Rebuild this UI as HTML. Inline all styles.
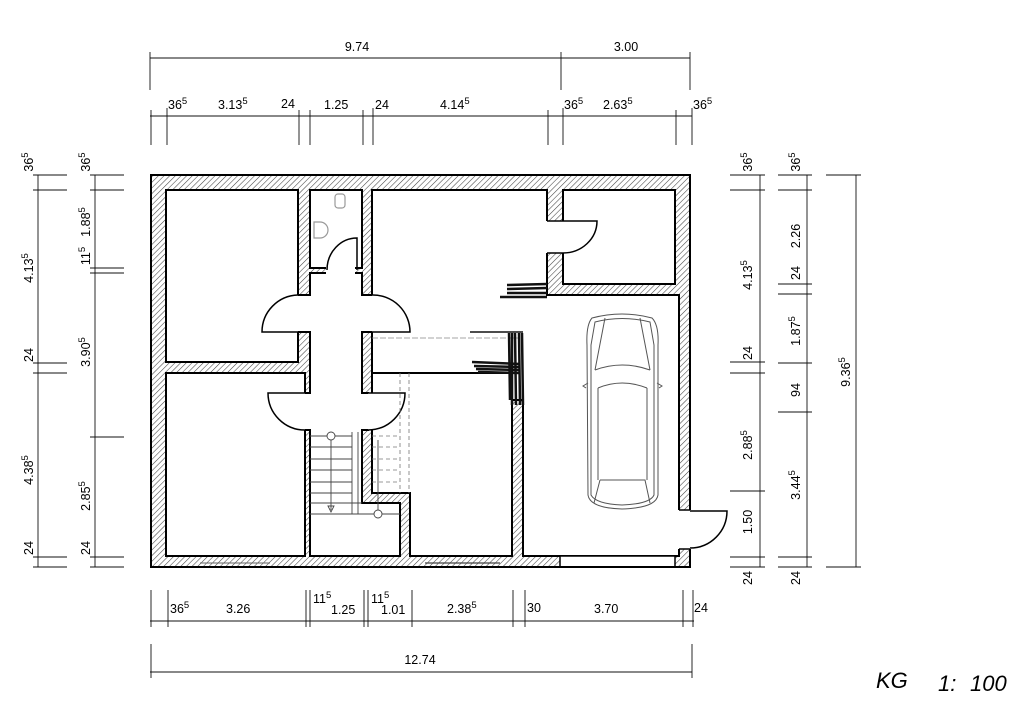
<!DOCTYPE html>
<html><head><meta charset="utf-8">
<style>
html,body{margin:0;padding:0;background:#fff;}
svg{display:block;}
text{font-family:"Liberation Sans",sans-serif;font-size:12.5px;fill:#000;}
.s{font-size:9.5px;}
</style></head>
<body>
<svg width="1026" height="710" viewBox="0 0 1026 710" xmlns="http://www.w3.org/2000/svg">
<defs>
<pattern id="h" width="4" height="4" patternUnits="userSpaceOnUse" patternTransform="rotate(45)">
<rect width="4" height="4" fill="#fff"/>
<line x1="0" y1="0" x2="0" y2="4" stroke="#444" stroke-width="1.1"/>
</pattern>
</defs>

<rect x="151" y="175" width="539" height="392" fill="url(#h)" stroke="#000" stroke-width="2"/>

<g fill="#fff" stroke="#000" stroke-width="2">
<rect x="166" y="190" width="132" height="172"/>
<rect x="166" y="373" width="139" height="183"/>
<rect x="310" y="190" width="52" height="78"/>
<path d="M372,190 L547,190 L547,295 L679,295 L679,556 L523,556 L523,400 L512,400 L512,373 L372,373 L372,362 L372,190 Z"/>
<rect x="563" y="190" width="112" height="94"/>
<path d="M372,373 L512,373 L512,556 L410,556 L410,493 L372,493 Z"/>
<path d="M310,273 L362,273 L362,295 L372,295 L372,332 L362,332 L362,393 L368,393 L368,430 L362,430 L362,503 L400,503 L400,556 L310,556 L310,430 L305,430 L305,393 L310,393 L310,332 L298,332 L298,295 L310,295 Z"/>
</g>
<g fill="#fff" stroke="none">
<rect x="326" y="266" width="29" height="9"/>
<rect x="545" y="221" width="20" height="32"/>
<rect x="677" y="510" width="15" height="39"/>
<rect x="296" y="296" width="16" height="35"/>
<rect x="360" y="296" width="14" height="35"/>
<rect x="303" y="394" width="9" height="35"/>
<rect x="360" y="394" width="10" height="35"/>
</g>
<rect x="560" y="556" width="115" height="11" fill="#fff" stroke="#000" stroke-width="1.5"/>
<line x1="151" y1="567" x2="690" y2="567" stroke="#000" stroke-width="2"/>
<line x1="690" y1="175" x2="690" y2="510" stroke="#000" stroke-width="2"/>
<line x1="690" y1="549" x2="690" y2="567" stroke="#000" stroke-width="2"/>
<line x1="679" y1="549" x2="690" y2="549" stroke="#000" stroke-width="1.5"/>
<line x1="679" y1="510" x2="690" y2="510" stroke="#000" stroke-width="1.5"/>

<g fill="#fff" stroke="#000" stroke-width="1.5">
<path d="M298,295 A37,37 0 0 0 262,332 L298,332"/>
<path d="M372,295 A37,37 0 0 1 410,332 L372,332"/>
<path d="M305,430 A37,37 0 0 1 268,393 L305,393"/>
<path d="M368,430 A37,37 0 0 0 405,393 L368,393"/>
<path d="M327,270 A30,32 0 0 1 357,238 L357,270" fill="none"/>
<path d="M563,221 L597,221 A34,32 0 0 1 563,253" fill="none"/>
<path d="M690,511 L727,511 A37,37 0 0 1 690,548" fill="none"/>
</g>
<line x1="547" y1="221" x2="563" y2="221" stroke="#000" stroke-width="1.5"/>
<line x1="547" y1="253" x2="563" y2="253" stroke="#000" stroke-width="1.5"/>

<g fill="none" stroke="#999" stroke-width="1.2">
<rect x="335" y="194" width="10" height="14" rx="3"/>
<path d="M314,222 L320,222 A8,8 0 0 1 320,238 L314,238 Z"/>
</g>

<g stroke="#444" stroke-width="0.9" fill="none">
<line x1="310" y1="436" x2="352" y2="436"/>
<line x1="310" y1="447" x2="352" y2="447"/>
<line x1="310" y1="459" x2="352" y2="459"/>
<line x1="310" y1="470" x2="352" y2="470"/>
<line x1="310" y1="482" x2="352" y2="482"/>
<line x1="310" y1="493" x2="352" y2="493"/>
<line x1="310" y1="503" x2="362" y2="503"/>
<line x1="310" y1="514" x2="400" y2="514"/>
<line x1="352" y1="432" x2="352" y2="514"/>
<line x1="358" y1="432" x2="358" y2="514"/>
<line x1="331" y1="440" x2="331" y2="510"/>
<circle cx="331" cy="436" r="4" fill="#fff"/>
<path d="M328,506 L331,512 L334,506 Z"/>
<line x1="378" y1="440" x2="378" y2="510"/>
<circle cx="378" cy="514" r="4" fill="#fff"/>
</g>
<g stroke="#777" stroke-width="0.8" stroke-dasharray="4,3" fill="none">
<line x1="400" y1="373" x2="400" y2="493"/>
<line x1="409" y1="373" x2="409" y2="493"/>
<line x1="372" y1="447" x2="400" y2="447"/>
<line x1="372" y1="459" x2="400" y2="459"/>
<line x1="372" y1="470" x2="400" y2="470"/>
<line x1="372" y1="482" x2="400" y2="482"/>
<line x1="372" y1="436" x2="400" y2="436"/>
</g>

<g stroke="#111" fill="none">
<path d="M507,285 L547,284 M507,289 L547,288 M507,293 L547,293 M507,297 L547,297 M500,297 L510,297" stroke-width="2.5"/>
<line x1="372" y1="338" x2="520" y2="338" stroke="#888" stroke-width="0.8" stroke-dasharray="6,2"/>
<line x1="470" y1="332" x2="523" y2="332" stroke-width="1.5"/>
<path d="M509,333 L510,400 M512,333 L512,405 M515,333 L516,405 M519,333 L520,405 M522,333 L523,405" stroke-width="2.5"/>
<path d="M472,362 L520,364 M474,366 L520,367 M476,369 L520,370 M478,372 L520,373" stroke-width="2.5"/>
<line x1="200" y1="563" x2="270" y2="563" stroke="#666" stroke-width="1"/>
<line x1="425" y1="563" x2="500" y2="563" stroke="#444" stroke-width="1.3"/>
</g>

<g fill="none" stroke="#555" stroke-width="1">
<path d="M592,318 Q622,310 652,318 Q659,325 658,345 L658,495 Q656,508 622,509 Q590,508 588,495 L587,345 Q586,325 592,318 Z"/>
<path d="M595,322 Q622,315 650,322 L654,345 L654,495 Q650,504 622,505 Q596,504 591,495 L591,345 Z"/>
<path d="M605,318 L595,370 M640,318 L650,370"/>
<path d="M595,370 Q622,360 650,370"/>
<path d="M598,388 Q622,378 647,388"/>
<path d="M598,388 L598,480 M647,388 L647,480"/>
<path d="M600,480 L645,480 L650,503 M600,480 L594,503"/>
<path d="M588,383 L583,386 L586,388 M657,383 L662,386 L659,388"/>
</g>

<g stroke="#111" stroke-width="0.9" fill="none">
<line x1="150" y1="58" x2="690" y2="58"/>
<line x1="150" y1="52" x2="150" y2="90"/>
<line x1="561" y1="52" x2="561" y2="90"/>
<line x1="690" y1="52" x2="690" y2="90"/>
<line x1="150" y1="116" x2="692" y2="116"/>
<line x1="151" y1="110" x2="151" y2="145"/>
<line x1="167" y1="108" x2="167" y2="145"/>
<line x1="299" y1="110" x2="299" y2="145"/>
<line x1="310" y1="110" x2="310" y2="145"/>
<line x1="363" y1="110" x2="363" y2="145"/>
<line x1="373" y1="108" x2="373" y2="145"/>
<line x1="548" y1="110" x2="548" y2="145"/>
<line x1="563" y1="108" x2="563" y2="145"/>
<line x1="676" y1="110" x2="676" y2="145"/>
<line x1="692" y1="108" x2="692" y2="145"/>
<line x1="38" y1="175" x2="38" y2="567"/>
<line x1="33" y1="175" x2="67" y2="175"/>
<line x1="33" y1="190" x2="67" y2="190"/>
<line x1="33" y1="363" x2="67" y2="363"/>
<line x1="33" y1="373" x2="67" y2="373"/>
<line x1="33" y1="557" x2="67" y2="557"/>
<line x1="33" y1="567" x2="67" y2="567"/>
<line x1="95" y1="175" x2="95" y2="567"/>
<line x1="90" y1="175" x2="124" y2="175"/>
<line x1="90" y1="190" x2="124" y2="190"/>
<line x1="90" y1="268" x2="124" y2="268"/>
<line x1="90" y1="273" x2="124" y2="273"/>
<line x1="90" y1="437" x2="124" y2="437"/>
<line x1="90" y1="557" x2="124" y2="557"/>
<line x1="90" y1="567" x2="124" y2="567"/>
<line x1="760" y1="175" x2="760" y2="567"/>
<line x1="730" y1="175" x2="765" y2="175"/>
<line x1="730" y1="190" x2="765" y2="190"/>
<line x1="730" y1="362" x2="765" y2="362"/>
<line x1="730" y1="373" x2="765" y2="373"/>
<line x1="730" y1="491" x2="765" y2="491"/>
<line x1="730" y1="557" x2="765" y2="557"/>
<line x1="730" y1="567" x2="765" y2="567"/>
<line x1="807" y1="175" x2="807" y2="567"/>
<line x1="778" y1="175" x2="812" y2="175"/>
<line x1="778" y1="190" x2="812" y2="190"/>
<line x1="778" y1="284" x2="812" y2="284"/>
<line x1="778" y1="294" x2="812" y2="294"/>
<line x1="778" y1="363" x2="812" y2="363"/>
<line x1="778" y1="412" x2="812" y2="412"/>
<line x1="778" y1="557" x2="812" y2="557"/>
<line x1="778" y1="567" x2="812" y2="567"/>
<line x1="856" y1="175" x2="856" y2="567"/>
<line x1="826" y1="175" x2="861" y2="175"/>
<line x1="826" y1="567" x2="861" y2="567"/>
<line x1="150" y1="621" x2="694" y2="621"/>
<line x1="151" y1="590" x2="151" y2="627"/>
<line x1="168" y1="590" x2="168" y2="627"/>
<line x1="306" y1="590" x2="306" y2="627"/>
<line x1="310" y1="590" x2="310" y2="627"/>
<line x1="364" y1="590" x2="364" y2="627"/>
<line x1="368" y1="590" x2="368" y2="627"/>
<line x1="412" y1="590" x2="412" y2="627"/>
<line x1="513" y1="590" x2="513" y2="627"/>
<line x1="525" y1="590" x2="525" y2="627"/>
<line x1="683" y1="590" x2="683" y2="627"/>
<line x1="693" y1="590" x2="693" y2="627"/>
<line x1="150" y1="672" x2="692" y2="672"/>
<line x1="151" y1="644" x2="151" y2="678"/>
<line x1="692" y1="644" x2="692" y2="678"/>
</g>

<text x="357" y="51" text-anchor="middle">9.74</text>
<text x="626" y="51" text-anchor="middle">3.00</text>
<text x="168" y="109">36<tspan class="s" dy="-5">5</tspan></text>
<text x="218" y="109">3.13<tspan class="s" dy="-5">5</tspan></text>
<text x="281" y="108">24</text>
<text x="324" y="109">1.25</text>
<text x="375" y="109">24</text>
<text x="440" y="109">4.14<tspan class="s" dy="-5">5</tspan></text>
<text x="564" y="109">36<tspan class="s" dy="-5">5</tspan></text>
<text x="603" y="109">2.63<tspan class="s" dy="-5">5</tspan></text>
<text x="693" y="109">36<tspan class="s" dy="-5">5</tspan></text>

<text transform="translate(33,162) rotate(-90)" text-anchor="middle">36<tspan class="s" dy="-5">5</tspan></text>
<text transform="translate(33,268) rotate(-90)" text-anchor="middle">4.13<tspan class="s" dy="-5">5</tspan></text>
<text transform="translate(33,355) rotate(-90)" text-anchor="middle">24</text>
<text transform="translate(33,470) rotate(-90)" text-anchor="middle">4.38<tspan class="s" dy="-5">5</tspan></text>
<text transform="translate(33,548) rotate(-90)" text-anchor="middle">24</text>
<text transform="translate(90,162) rotate(-90)" text-anchor="middle">36<tspan class="s" dy="-5">5</tspan></text>
<text transform="translate(90,222) rotate(-90)" text-anchor="middle">1.88<tspan class="s" dy="-5">5</tspan></text>
<text transform="translate(90,256) rotate(-90)" text-anchor="middle">11<tspan class="s" dy="-5">5</tspan></text>
<text transform="translate(90,352) rotate(-90)" text-anchor="middle">3.90<tspan class="s" dy="-5">5</tspan></text>
<text transform="translate(90,496) rotate(-90)" text-anchor="middle">2.85<tspan class="s" dy="-5">5</tspan></text>
<text transform="translate(90,548) rotate(-90)" text-anchor="middle">24</text>

<text transform="translate(752,162) rotate(-90)" text-anchor="middle">36<tspan class="s" dy="-5">5</tspan></text>
<text transform="translate(752,275) rotate(-90)" text-anchor="middle">4.13<tspan class="s" dy="-5">5</tspan></text>
<text transform="translate(752,353) rotate(-90)" text-anchor="middle">24</text>
<text transform="translate(752,445) rotate(-90)" text-anchor="middle">2.88<tspan class="s" dy="-5">5</tspan></text>
<text transform="translate(752,522) rotate(-90)" text-anchor="middle">1.50</text>
<text transform="translate(752,578) rotate(-90)" text-anchor="middle">24</text>
<text transform="translate(800,162) rotate(-90)" text-anchor="middle">36<tspan class="s" dy="-5">5</tspan></text>
<text transform="translate(800,236) rotate(-90)" text-anchor="middle">2.26</text>
<text transform="translate(800,273) rotate(-90)" text-anchor="middle">24</text>
<text transform="translate(800,331) rotate(-90)" text-anchor="middle">1.87<tspan class="s" dy="-5">5</tspan></text>
<text transform="translate(800,390) rotate(-90)" text-anchor="middle">94</text>
<text transform="translate(800,485) rotate(-90)" text-anchor="middle">3.44<tspan class="s" dy="-5">5</tspan></text>
<text transform="translate(800,578) rotate(-90)" text-anchor="middle">24</text>
<text transform="translate(850,372) rotate(-90)" text-anchor="middle">9.36<tspan class="s" dy="-5">5</tspan></text>

<text x="170" y="613">36<tspan class="s" dy="-5">5</tspan></text>
<text x="226" y="613">3.26</text>
<text x="313" y="603">11<tspan class="s" dy="-5">5</tspan></text>
<text x="331" y="614">1.25</text>
<text x="371" y="603">11<tspan class="s" dy="-5">5</tspan></text>
<text x="381" y="614">1.01</text>
<text x="447" y="613">2.38<tspan class="s" dy="-5">5</tspan></text>
<text x="527" y="612">30</text>
<text x="594" y="613">3.70</text>
<text x="694" y="612">24</text>
<text x="420" y="664" text-anchor="middle">12.74</text>

<text x="876" y="688" style="font-size:22px;font-style:italic;">KG</text>
<text x="938" y="691" style="font-size:22px;font-style:italic;">1:</text>
<text x="970" y="691" style="font-size:22px;font-style:italic;">100</text>
</svg>
</body></html>
